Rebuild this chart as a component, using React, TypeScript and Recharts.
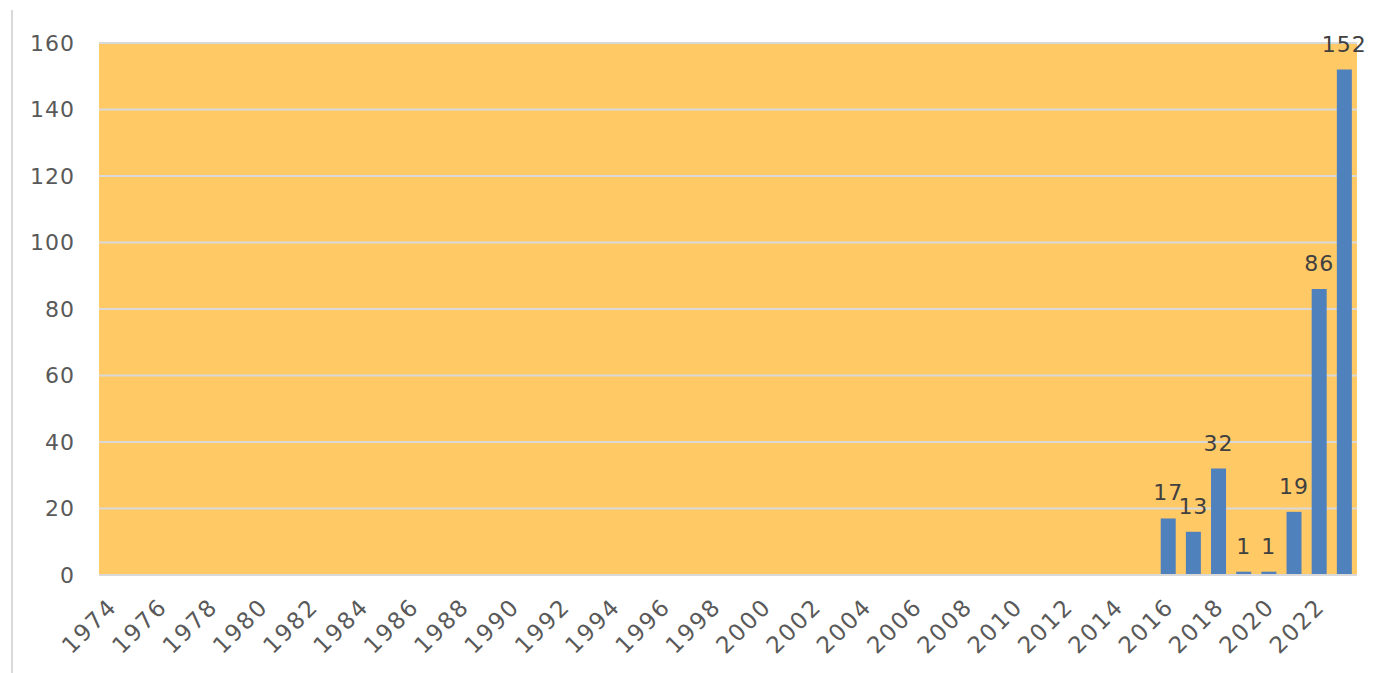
import { BarChart, Bar, XAxis, YAxis, CartesianGrid, LabelList } from 'recharts';

const years = [
  '1974', '1975', '1976', '1977', '1978', '1979', '1980', '1981', '1982', '1983',
  '1984', '1985', '1986', '1987', '1988', '1989', '1990', '1991', '1992', '1993',
  '1994', '1995', '1996', '1997', '1998', '1999', '2000', '2001', '2002', '2003',
  '2004', '2005', '2006', '2007', '2008', '2009', '2010', '2011', '2012', '2013',
  '2014', '2015', '2016', '2017', '2018', '2019', '2020', '2021', '2022', '2023',
];

// empty years before 2016 carry no value
const counts: (number | null)[] = [
  null, null, null, null, null, null, null, null, null, null,
  null, null, null, null, null, null, null, null, null, null,
  null, null, null, null, null, null, null, null, null, null,
  null, null, null, null, null, null, null, null, null, null,
  null, null, 17, 13, 32, 1, 1, 19, 86, 152,
];

const yTicks = [0, 20, 40, 60, 80, 100, 120, 140, 160];

const data = years.map((year, i) => ({ year, count: counts[i] }));

const FONT = '"DejaVu Sans", Verdana, sans-serif';

function YearTick(props: any) {
  const { x, y, payload } = props;
  const tx = Number(x) + 7;
  const ty = Number(y) + 27;
  return (
    <text
      x={tx}
      y={ty}
      transform={`rotate(-45, ${tx}, ${ty})`}
      textAnchor="end"
      fontSize={23}
      letterSpacing={2}
      fontFamily={FONT}
      fill="#595959"
    >
      {payload.value}
    </text>
  );
}

function ValueLabel(props: any) {
  const { x, y, width, value } = props;
  if (value === null || value === undefined) return null;
  return (
    <text
      x={Number(x) + Number(width) / 2}
      y={Number(y) - 18}
      textAnchor="middle"
      fontSize={22}
      letterSpacing={1}
      fontFamily={FONT}
      fill="#404040"
    >
      {value}
    </text>
  );
}

export default function App() {
  return (
    <div style={{ position: 'relative', width: 1388, height: 665 }}>
      <div
        style={{ position: 'absolute', left: 3, top: 2, width: 2, height: 663, background: '#d9d9d9' }}
      />
      <BarChart
        width={1388}
        height={665}
        data={data}
        margin={{ top: 35, right: 39, bottom: 0, left: 0 }}
      >
        <CartesianGrid vertical={false} stroke="#d9d9d9" strokeWidth={2} fill="#FFC966" />
        <XAxis
          dataKey="year"
          interval={1}
          height={98}
          axisLine={{ stroke: '#d9d9d9', strokeWidth: 2 }}
          tickLine={false}
          tickMargin={0}
          tick={<YearTick />}
        />
        <YAxis
          domain={[0, 160]}
          ticks={yTicks}
          width={91}
          axisLine={false}
          tickLine={false}
          tickMargin={18}
          tick={{ fontSize: 22, letterSpacing: 1, fill: '#595959', fontFamily: FONT }}
        />
        <Bar dataKey="count" fill="#4F81BD" barSize={15} isAnimationActive={false}>
          <LabelList dataKey="count" content={ValueLabel} />
        </Bar>
      </BarChart>
    </div>
  );
}
